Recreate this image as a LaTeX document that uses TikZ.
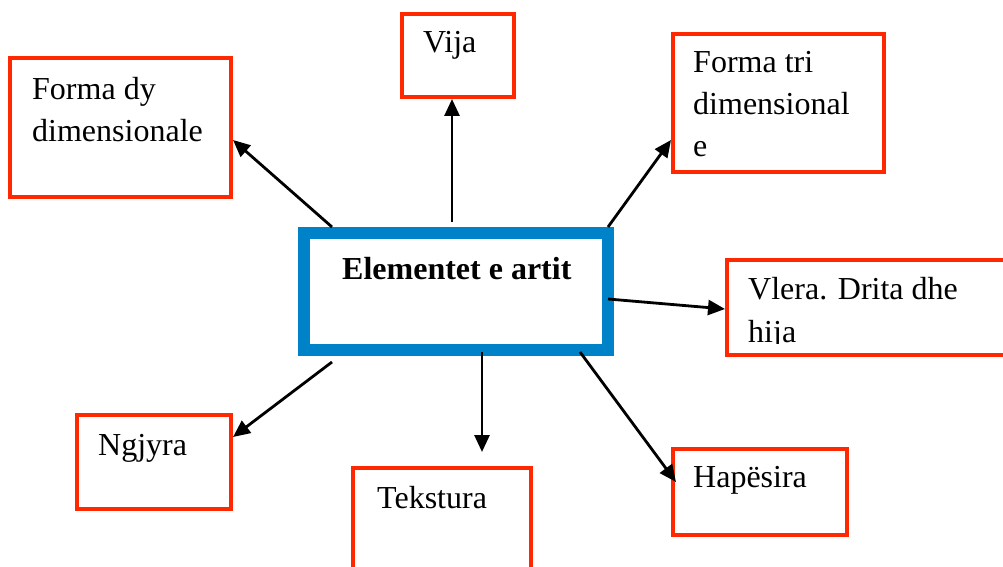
\documentclass[tikz,border=0pt]{standalone}
\usepackage{fontspec}
\setmainfont{Liberation Serif}
\usetikzlibrary{arrows.meta}
\definecolor{boxred}{RGB}{255,40,0}
\definecolor{boxblue}{RGB}{0,130,200}
\tikzset{
  redbox/.style={draw=boxred, line width=4pt, rectangle, inner sep=0pt, anchor=north west},
  bluebox/.style={draw=boxblue, line width=12pt, rectangle, inner sep=0pt, anchor=north west},
  txt/.style={inner sep=0pt, anchor=base west, align=left, font=\fontsize{32}{42.5}\selectfont},
  conn/.style={draw=black, line width=2.8pt, -{Triangle[length=17pt,width=15pt]}}
}
\begin{document}
\begin{tikzpicture}[x=1pt,y=-1pt]
\clip (0,0) rectangle (1003,567);
\fill[white] (0,0) rectangle (1003,567);
% boxes (anchor = outer corner of the stroke)
\node[redbox, minimum width=221pt, minimum height=139pt] (fdy) at (8,56) {};
\node[redbox, minimum width=112pt, minimum height=83pt] (vija) at (400,12) {};
\node[redbox, minimum width=211pt, minimum height=138pt] (ftri) at (671,32) {};
\node[redbox, minimum width=320pt, minimum height=95pt] (vlera) at (725,258) {};
\node[redbox, minimum width=154pt, minimum height=94pt] (ngj) at (75,413) {};
\node[redbox, minimum width=178pt, minimum height=140pt] (tek) at (351,466) {};
\node[redbox, minimum width=174pt, minimum height=86pt] (hap) at (671,447) {};
\node[bluebox, minimum width=304pt, minimum height=117pt] (c) at (298,227) {};
% texts (anchor = baseline of the last line)
\node[txt] (fdyt) at ([xshift=24pt,yshift=-86pt]fdy.north west) {Forma dy\\dimensionale};
\node[txt] (vijat) at ([xshift=23pt,yshift=-41pt]vija.north west) {Vija};
\node[txt] (ftrit) at ([xshift=22pt,yshift=-125pt]ftri.north west) {Forma tri\\dimensional\\e};
\begin{scope}
\clip (700,262) rectangle (1003,343);
\node[txt] (vlerat) at ([xshift=23pt,yshift=-84pt]vlera.north west) {Vlera. Drita dhe\\hija};
\end{scope}
\node[txt] (ngjt) at ([xshift=23pt,yshift=-42pt]ngj.north west) {Ngjyra};
\node[txt] (tekt) at ([xshift=26pt,yshift=-42pt]tek.north west) {Tekstura};
\node[txt] (hapt) at ([xshift=22pt,yshift=-40pt]hap.north west) {Hapësira};
\node[txt, font=\fontsize{32}{42.5}\selectfont\bfseries] (ct) at ([xshift=44pt,yshift=-52pt]c.north west) {Elementet e artit};
% connectors
\draw[conn] ([xshift=34pt]c.north west) -- ([yshift=-84pt]fdy.north east);
\draw[conn] ([xshift=154pt,yshift=5pt]c.north west) -- ([xshift=-6pt]vija.south);
\draw[conn] ([xshift=-6pt]c.north east) -- ([yshift=-108pt]ftri.north west);
\draw[conn] ([xshift=-6pt,yshift=-72pt]c.north east) -- ([yshift=-51pt]vlera.north west);
\draw[conn] ([xshift=34pt,yshift=-6pt]c.south west) -- ([yshift=-24pt]ngj.north east);
\draw[conn] ([xshift=184pt,yshift=4pt]c.south west) -- ([xshift=40pt,yshift=14pt]tek.north);
\draw[conn] ([xshift=-34pt,yshift=4pt]c.south east) -- ([xshift=5pt,yshift=-35pt]hap.north west);
\end{tikzpicture}
\end{document}
